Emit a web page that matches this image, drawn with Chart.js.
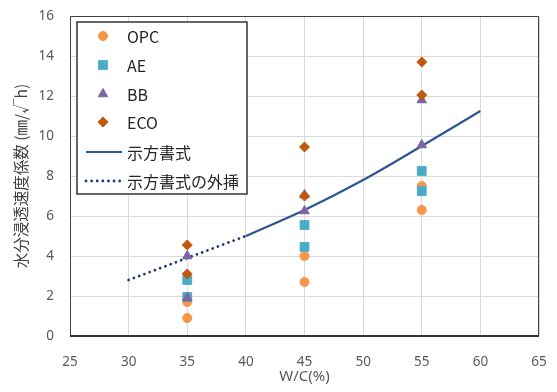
<!DOCTYPE html>
<html>
<head>
<meta charset="utf-8">
<script src="https://cdn.jsdelivr.net/npm/chart.js@4.4.1/dist/chart.umd.min.js"></script>
<style>
  html, body { margin: 0; padding: 0; background: #fff; }
  #wrap { width: 557px; height: 392px; }
</style>
</head>
<body>
<div id="wrap"><canvas id="chartID" width="557" height="392"></canvas></div>
<script>
// W/C (%) for each measured point
var opcWC = [35, 35, 45, 45, 55, 55];
var opcVal = [1.7, 0.9, 4.0, 2.7, 7.5, 6.3];
var aeWC = [35, 35, 45, 45, 55, 55];
var aeVal = [2.8, 1.95, 5.55, 4.45, 8.25, 7.25];
var bbWC = [35, 35, 45, 45, 55, 55];
var bbVal = [4.0, 1.9, 7.05, 6.25, 11.8, 9.55];
var ecoWC = [35, 35, 45, 45, 55, 55];
var ecoVal = [4.55, 3.1, 9.45, 7.0, 13.7, 12.05];

// 示方書式 curve and its extrapolation
var specWC = [40, 45, 50, 55, 60];
var specVal = [5.0, 6.3, 7.8, 9.5, 11.25];
var extWC = [30, 35, 40];
var extVal = [2.8, 3.9, 5.0];

var xTicks = [25, 30, 35, 40, 45, 50, 55, 60, 65];
var yTicks = [0, 2, 4, 6, 8, 10, 12, 14, 16];

var legendNames = ['OPC', 'AE', 'BB', 'ECO', '示方書式', '示方書式の外挿'];

function toPoints(xs, ys) {
    return xs.map(function(x, i) { return {x: x, y: ys[i]}; });
}

var tickFont = {family: "'Noto Sans', sans-serif", size: 13.5};
var jpFont = "'Noto Sans CJK JP', 'Noto Sans', sans-serif";

// draws the dark frame around the plot area
var framePlugin = {
    id: 'frame',
    afterDatasetsDraw: function(chart) {
        var a = chart.chartArea, ctx = chart.ctx;
        ctx.save();
        ctx.strokeStyle = '#404040';
        ctx.lineWidth = 1;
        ctx.beginPath();
        ctx.moveTo(a.left + 0.5, a.bottom);
        ctx.lineTo(a.left + 0.5, a.top + 0.5);
        ctx.lineTo(a.right - 0.5, a.top + 0.5);
        ctx.lineTo(a.right - 0.5, a.bottom);
        ctx.stroke();
        ctx.lineWidth = 2;
        ctx.strokeStyle = '#333';
        ctx.beginPath();
        ctx.moveTo(a.left, a.bottom);
        ctx.lineTo(a.right, a.bottom);
        ctx.stroke();
        ctx.restore();
    }
};

// legend box drawn inside the plot area, like the spreadsheet one
var boxLegend = {
    id: 'boxLegend',
    beforeDatasetsDraw: function(chart) {
        var ctx = chart.ctx;
        var left = 77, top = 22, w = 170, h = 172;
        ctx.save();
        ctx.fillStyle = '#fff';
        ctx.fillRect(left, top, w, h);
        ctx.strokeStyle = '#333';
        ctx.lineWidth = 1.5;
        ctx.strokeRect(left, top, w, h);
        ctx.font = '16px ' + jpFont;
        ctx.textBaseline = 'middle';
        ctx.textAlign = 'left';
        var rows = [36, 65, 94, 122, 152, 181];
        chart.data.datasets.forEach(function(ds, i) {
            var y = rows[i];
            if (ds.showLine) {
                ctx.save();
                ctx.strokeStyle = ds.borderColor;
                ctx.lineWidth = ds.borderWidth;
                ctx.lineCap = ds.borderCapStyle || 'butt';
                ctx.setLineDash(ds.borderDash || []);
                ctx.beginPath();
                ctx.moveTo(86, y);
                ctx.lineTo(122, y);
                ctx.stroke();
                ctx.restore();
            } else {
                ctx.fillStyle = ds.backgroundColor;
                ctx.strokeStyle = ds.borderColor;
                ctx.lineWidth = 1;
                Chart.helpers.drawPoint(ctx, {pointStyle: ds.pointStyle, radius: ds.pointRadius, borderWidth: 1}, 103, y);
            }
            ctx.fillStyle = '#262626';
            ctx.fillText(legendNames[i], 127, y + 1);
        });
        ctx.restore();
    }
};

var chartConfig = {
    type: 'scatter',
    data: {
        datasets: [
            {label: 'OPC', data: toPoints(opcWC, opcVal), pointStyle: 'circle', pointRadius: 4.5,
             backgroundColor: '#F79646', borderColor: '#F79646', order: 3},
            {label: 'AE', data: toPoints(aeWC, aeVal), pointStyle: 'rect', pointRadius: 6.2,
             backgroundColor: '#4BACC6', borderColor: '#4BACC6', order: 2},
            {label: 'BB', data: toPoints(bbWC, bbVal), pointStyle: 'triangle', pointRadius: 5.5,
             backgroundColor: '#8064A2', borderColor: '#8064A2', order: 1},
            {label: 'ECO', data: toPoints(ecoWC, ecoVal), pointStyle: 'rectRot', pointRadius: 5,
             backgroundColor: '#C0590C', borderColor: '#C0590C', order: 0},
            {label: '示方書式', data: toPoints(specWC, specVal), showLine: true, pointRadius: 0,
             borderColor: '#2D5790', borderWidth: 2.2, cubicInterpolationMode: 'monotone', order: 5},
            {label: '示方書式の外挿', data: toPoints(extWC, extVal), showLine: true, pointRadius: 0,
             borderColor: '#1F3A78', borderWidth: 2.8, borderDash: [0.01, 5.6], borderCapStyle: 'round',
             cubicInterpolationMode: 'monotone', order: 6}
        ]
    },
    options: {
        responsive: false,
        animation: false,
        layout: {padding: {top: 16, right: 18, left: 0, bottom: 0}},
        plugins: {
            legend: {display: false},
            tooltip: {enabled: false}
        },
        scales: {
            x: {
                type: 'linear', min: 25, max: 65,
                afterBuildTicks: function(scale) { scale.ticks = xTicks.map(function(v) { return {value: v}; }); },
                afterFit: function(scale) {
                    scale.height = 56;
                    scale.paddingLeft = 0;
                    scale.paddingRight = 0;
                },
                grid: {color: '#D9D9D9', drawTicks: false},
                border: {display: false},
                ticks: {font: tickFont, color: '#595959', padding: 18},
                title: {display: true, text: 'W/C(%)', font: {family: "'Noto Sans', sans-serif", size: 15},
                        color: '#595959', padding: {top: 0, bottom: 6}}
            },
            y: {
                type: 'linear', min: 0, max: 16,
                afterBuildTicks: function(scale) { scale.ticks = yTicks.map(function(v) { return {value: v}; }); },
                afterFit: function(scale) {
                    scale.width = 70;
                    scale.paddingTop = 0;
                    scale.paddingBottom = 0;
                },
                grid: {color: '#D9D9D9', drawTicks: false},
                border: {display: false},
                ticks: {font: tickFont, color: '#595959', padding: 16},
                title: {display: true, text: '水分浸透速度係数 (㎜/√h)', font: {family: jpFont, size: 15.5},
                        color: '#404040', padding: {top: 12, bottom: 0}}
            }
        }
    },
    plugins: [boxLegend, framePlugin]
};

var chartCtx = document.getElementById('chartID');
var waterChart = new Chart(chartCtx, chartConfig);
</script>
</body>
</html>
